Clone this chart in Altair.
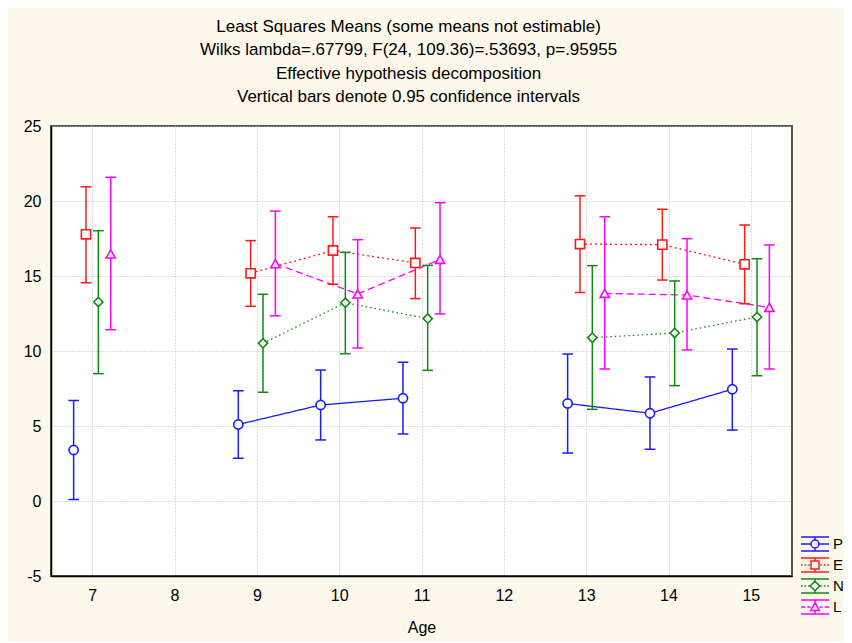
import altair as alt
import pandas as pd

# ---- data ----
series = ["P", "E", "N", "L"]
ages = [7, 9, 10, 11, 13, 14, 15]

P_mean = [3.4, 5.1, 6.4, 6.85, 6.5, 5.85, 7.45]
P_lo = [0.1, 2.85, 4.07, 4.47, 3.2, 3.45, 4.73]
P_hi = [6.7, 7.35, 8.73, 9.25, 9.8, 8.27, 10.13]

E_mean = [17.78, 15.18, 16.7, 15.87, 17.13, 17.09, 15.78]
E_lo = [14.55, 12.98, 14.45, 13.49, 13.9, 14.73, 13.15]
E_hi = [20.95, 17.36, 18.95, 18.2, 20.35, 19.45, 18.4]

N_mean = [13.27, 10.51, 13.22, 12.16, 10.89, 11.2, 12.27]
N_lo = [8.49, 7.25, 9.82, 8.71, 6.11, 7.69, 8.35]
N_hi = [18.02, 13.78, 16.58, 15.71, 15.69, 14.67, 16.15]

L_mean = [16.47, 15.82, 13.8, 16.11, 13.84, 13.73, 12.91]
L_lo = [11.42, 12.35, 10.2, 12.47, 8.8, 10.07, 8.8]
L_hi = [21.58, 19.33, 17.42, 19.89, 18.95, 17.49, 17.07]

dodge = [-0.225, -0.075, 0.075, 0.225]
x_ticks = [7, 8, 9, 10, 11, 12, 13, 14, 15]
y_ticks = [-5, 0, 5, 10, 15, 20, 25]

title_lines = [
    "Least Squares Means (some means not estimable)",
    "Wilks lambda=.67799, F(24, 109.36)=.53693, p=.95955",
    "Effective hypothesis decomposition",
    "Vertical bars denote 0.95 confidence intervals",
]

colors = ["#1a1aff", "#ff1a1a", "#108a10", "#ff00ff"]
dashes = [[1, 0], [2, 3], [1.5, 3], [7, 4]]
shapes = ["circle", "square", "diamond", "triangle-up"]

# legend glyphs: error bar + connecting line + marker (unit box -1..1)
caps = "M-1.75,-0.875H1.75M-1.75,0.875H1.75"
dot_line = "M-1.75,0H-1.55M-1.3,0H-1.1M-0.85,0H-0.65M0.65,0H0.85M1.1,0H1.3M1.55,0H1.75"
dash_line = "M-1.75,0H-1.2M-0.95,0H-0.55M0.55,0H0.95M1.2,0H1.75"
leg_paths = [
    caps + "M0,-0.875V-0.5M0,0.5V0.875M-1.75,0H-0.5M0.5,0H1.75"
    "M-0.5,0A0.5,0.5 0 1,0 0.5,0A0.5,0.5 0 1,0 -0.5,0Z",
    caps + "M0,-0.875V-0.5M0,0.5V0.875" + dot_line + "M-0.5,-0.5H0.5V0.5H-0.5Z",
    caps + "M0,-0.875V-0.6M0,0.6V0.875" + dot_line + "M0,-0.6L0.6,0L0,0.6L-0.6,0Z",
    caps + "M0,-0.875V-0.55M0,0.45V0.875" + dash_line + "M0,-0.55L0.55,0.45H-0.55Z",
]

means = [P_mean, E_mean, N_mean, L_mean]
los = [P_lo, E_lo, N_lo, L_lo]
his = [P_hi, E_hi, N_hi, L_hi]

rows = []
for s, m, lo, hi, off in zip(series, means, los, his, dodge):
    for a, mv, lv, hv in zip(ages, m, lo, hi):
        seg = "A" if a < 8 else ("B" if a < 12 else "C")
        rows.append(dict(series=s, age=a, x=a + off, mean=mv, lo=lv, hi=hv, seg=seg))
df = pd.DataFrame(rows)

FONT = "Liberation Sans"

xscale = alt.Scale(domain=[6.5, 15.5], nice=False, zero=False)
yscale = alt.Scale(domain=[-5, 25], nice=False, zero=False)
cscale = alt.Scale(domain=series, range=colors)

X = alt.X("x:Q", scale=xscale,
          axis=alt.Axis(values=x_ticks, title="Age", format="d", labelPadding=11, titlePadding=16))
Y = alt.Y("mean:Q", scale=yscale,
          axis=alt.Axis(values=y_ticks, title=None, labelPadding=10,
                        labelExpr="toString(datum.value)"))

base = alt.Chart(df)

lines = base.transform_filter("datum.seg != 'A'").mark_line(strokeWidth=1.3).encode(
    x=X, y=Y,
    stroke=alt.Stroke("series:N", scale=cscale, legend=None),
    strokeDash=alt.StrokeDash("series:N", scale=alt.Scale(domain=series, range=dashes), legend=None),
    detail="seg:N",
)

bars = base.mark_rule(strokeWidth=1.5).encode(
    x=X, y=alt.Y("lo:Q", scale=yscale), y2="hi:Q",
    stroke=alt.Stroke("series:N", scale=cscale, legend=None),
)

caps_lo = base.transform_calculate(xl="datum.x - 0.065", xr="datum.x + 0.065").mark_rule(strokeWidth=1.5).encode(
    x=alt.X("xl:Q", scale=xscale), x2="xr:Q", y=alt.Y("lo:Q", scale=yscale),
    stroke=alt.Stroke("series:N", scale=cscale, legend=None),
)
caps_hi = base.transform_calculate(xl="datum.x - 0.065", xr="datum.x + 0.065").mark_rule(strokeWidth=1.5).encode(
    x=alt.X("xl:Q", scale=xscale), x2="xr:Q", y=alt.Y("hi:Q", scale=yscale),
    stroke=alt.Stroke("series:N", scale=cscale, legend=None),
)

points = base.mark_point(size=85, opacity=1, fillOpacity=1).encode(
    x=X, y=Y,
    stroke=alt.Stroke("series:N", scale=cscale, legend=None),
    fill=alt.value("white"),
    shape=alt.Shape("series:N", scale=alt.Scale(domain=series, range=shapes), legend=None),
    strokeWidth=alt.StrokeWidth("series:N", scale=alt.Scale(domain=series, range=[1.6, 1.6, 1.6, 2.6]), legend=None),
)

leg = alt.Legend(
    title=None, orient="none", legendX=749, legendY=409,
    symbolSize=256, symbolStrokeWidth=1.5, symbolFillColor="white", symbolOpacity=1,
    labelFont=FONT, labelFontSize=15, labelColor="black",
    rowPadding=1, labelOffset=9, symbolOffset=6, padding=0,
)
legend_layer = base.mark_point(size=256, opacity=0, strokeWidth=1.5).encode(
    x=X, y=Y,
    stroke=alt.Stroke("series:N", scale=cscale, legend=leg),
    fill=alt.value("white"),
    shape=alt.Shape("series:N", scale=alt.Scale(domain=series, range=leg_paths), legend=leg),
)

chart = alt.layer(lines, bars, caps_lo, caps_hi, points, legend_layer).resolve_scale(
    stroke="independent", shape="independent"
).properties(
    width=741, height=450,
    autosize=alt.AutoSizeParams(type="none"),
    padding={"left": 43, "top": 118, "right": 52, "bottom": 66},
    title=alt.TitleParams(text=title_lines, font=FONT, fontSize=17, fontWeight="normal",
                          lineHeight=23.3, anchor="middle", dx=-13, offset=12, color="black"),
    background="#FDF8EC",
).configure_view(
    fill="white", stroke="#555555", strokeWidth=2,
).configure_axis(
    domainColor="black", domainWidth=1.5, ticks=False,
    grid=True, gridColor="#BBBBBB", gridDash=[1, 2], gridWidth=1,
    labelFont=FONT, labelFontSize=16, labelColor="black",
    titleFont=FONT, titleFontSize=16, titleFontWeight="normal", titleColor="black",
    zindex=1,
)

chart.save("out.html", embed_options={"renderer": "svg", "actions": False})
